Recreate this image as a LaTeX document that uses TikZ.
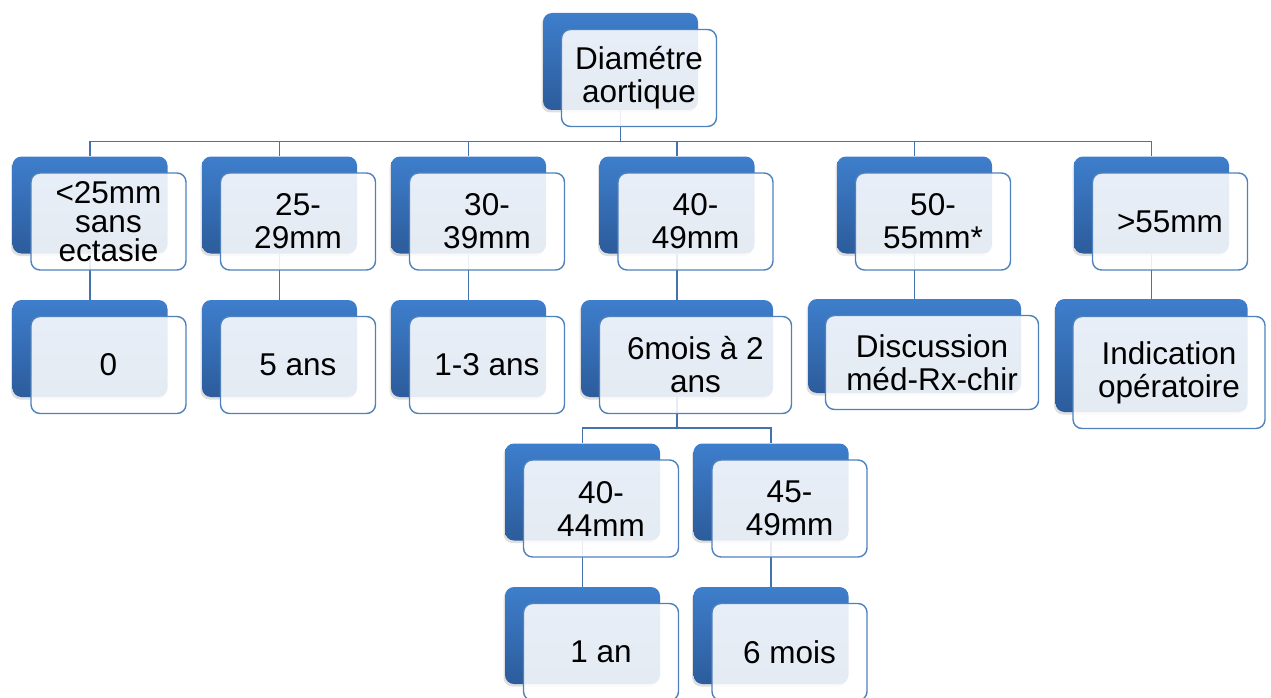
\documentclass[tikz,border=0pt]{standalone}
\usepackage{fontspec}
\setmainfont{Liberation Sans}
\usepackage{xcolor}
\usetikzlibrary{positioning, shadows, backgrounds}

\definecolor{boxtop}{RGB}{62,126,204}
\definecolor{boxbot}{RGB}{44,92,155}
\definecolor{edgeblue}{RGB}{79,129,189}
\definecolor{linkblue}{RGB}{68,114,174}

\begin{document}
\begin{tikzpicture}[
    x=1pt, y=-1pt,
    back/.style={rounded corners=9pt, top color=boxtop, bottom color=boxbot, minimum width=155pt, minimum height=97pt, inner sep=0pt,
        drop shadow={shadow xshift=-1.5pt, shadow yshift=-2.5pt, opacity=0.25}},
    front/.style={draw=edgeblue, line width=1.4pt, rounded corners=9pt, fill=white, fill opacity=0.88, text opacity=1,
        minimum width=155pt, minimum height=97pt, inner sep=0pt, align=center, font=\fontsize{31.5}{33}\selectfont},
    link/.style={draw=linkblue, line width=1.8pt}
]
\useasboundingbox (0,0) rectangle (1271,698);

% root
\node[back] (diamB) at (620.5,61.5) {};
\node[front, below right=16pt and 18pt of diamB.north west] (diam) {Diamétre\\aortique};

% first level
\node[back] (lt25B) at (90,205) {};
\node[front, below right=16pt and 18pt of lt25B.north west, font=\fontsize{31.5}{29}\selectfont] (lt25) {<25mm\\sans\\ectasie};
\node[back] (r2529B) at (279.5,205) {};
\node[front, below right=16pt and 18pt of r2529B.north west] (r2529) {25-\\29mm};
\node[back] (r3039B) at (468.5,205) {};
\node[front, below right=16pt and 18pt of r3039B.north west] (r3039) {30-\\39mm};
\node[back] (r4049B) at (677,205) {};
\node[front, below right=16pt and 18pt of r4049B.north west] (r4049) {40-\\49mm};
\node[back] (r5055B) at (914.5,205) {};
\node[front, below right=16pt and 18pt of r5055B.north west] (r5055) {50-\\55mm*};
\node[back] (gt55B) at (1151.5,205) {};
\node[front, below right=16pt and 18pt of gt55B.north west] (gt55) {>55mm};

% second level
\node[back] (f0B) at (90,348.5) {};
\node[front, below right=16pt and 18pt of f0B.north west] (f0) {0};
\node[back] (f5B) at (279.5,348.5) {};
\node[front, below right=16pt and 18pt of f5B.north west] (f5) {5 ans};
\node[back] (f13B) at (468.5,348.5) {};
\node[front, below right=16pt and 18pt of f13B.north west] (f13) {1-3 ans};
\node[back, minimum width=192pt] (f6mB) at (677,348.5) {};
\node[front, minimum width=192pt, below right=16pt and 18pt of f6mB.north west] (f6m) {6mois à 2\\ans};
\node[back, minimum width=213pt, minimum height=94pt] (discB) at (914.5,346) {};
\node[front, minimum width=213pt, minimum height=94pt, below right=16pt and 17pt of discB.north west] (disc) {Discussion\\méd-Rx-chir};
\node[back, minimum width=192pt, minimum height=113pt] (indicB) at (1151.5,355.5) {};
\node[front, minimum width=192pt, minimum height=112pt, below right=17pt and 17pt of indicB.north west] (indic) {Indication\\opératoire};

% third and fourth level
\node[back] (r4044B) at (582.5,492) {};
\node[front, below right=16pt and 18pt of r4044B.north west] (r4044) {40-\\44mm};
\node[back] (r4549B) at (771,492) {};
\node[front, below right=16pt and 18pt of r4549B.north west] (r4549) {45-\\49mm};
\node[back] (f1anB) at (582.5,635.5) {};
\node[front, below right=16pt and 18pt of f1anB.north west] (f1an) {1 an};
\node[back] (f6moisB) at (771,635.5) {};
\node[front, below right=16pt and 18pt of f6moisB.north west] (f6mois) {6 mois};

\coordinate (bus1) at (0,141.5);
\coordinate (bus2) at (0,428);

\begin{scope}[on background layer]
\foreach \n in {lt25,r2529,r3039,r4049,r5055,gt55}
    \draw[link] (diamB.south) -- (diamB.south |- bus1) -| (\n B.north);
\draw[link] (lt25B.south) -- (f0B.north);
\draw[link] (r2529B.south) -- (f5B.north);
\draw[link] (r3039B.south) -- (f13B.north);
\draw[link] (r4049B.south) -- (f6mB.north);
\draw[link] (r5055B.south) -- (discB.north);
\draw[link] (gt55B.south) -- (indicB.north);
\foreach \n in {r4044,r4549}
    \draw[link] (f6mB.south) -- (f6mB.south |- bus2) -| (\n B.north);
\draw[link] (r4044B.south) -- (f1anB.north);
\draw[link] (r4549B.south) -- (f6moisB.north);
\end{scope}
\end{tikzpicture}
\end{document}
